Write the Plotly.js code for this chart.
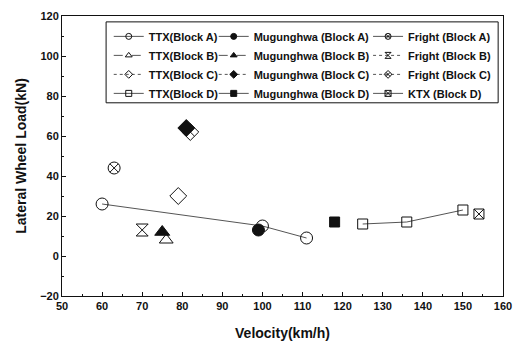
<!DOCTYPE html>
<html>
<head>
<meta charset="utf-8">
<script src="https://cdn.plot.ly/plotly-3.0.1.min.js"></script>
<style>html,body{margin:0;padding:0;background:#fff;}#chart{width:519px;height:345px;}</style>
</head>
<body>
<div id="chart"></div>
<script>
// Data
const ttxA_x = [60, 100, 111];      const ttxA_y = [26, 15, 9];
const mugA_x = [99];                const mugA_y = [13];
const frA_x  = [63];                const frA_y  = [44];
const ttxB_x = [76];                const ttxB_y = [8];
const mugB_x = [75];                const mugB_y = [12];
const frB_x  = [70];                const frB_y  = [13];
const ttxC_x = [79];                const ttxC_y = [30];
const mugC_x = [81];                const mugC_y = [64];
const frC_x  = [82];                const frC_y  = [62];
const ttxD_x = [125, 136, 150];     const ttxD_y = [16, 17, 23];
const mugD_x = [118];               const mugD_y = [17];
const ktxD_x = [154];               const ktxD_y = [21];

const ink = '#111';
const lineC = '#555';
const series = [
  ['TTX(Block A)', ttxA_x, ttxA_y, 'circle-open', 12, 'solid', 'legend'],
  ['TTX(Block B)', ttxB_x, ttxB_y, 'triangle-up-open', 12, 'dash', 'legend'],
  ['TTX(Block C)', ttxC_x, ttxC_y, 'diamond-open', 13, 'dot', 'legend'],
  ['TTX(Block D)', ttxD_x, ttxD_y, 'square-open', 10, 'solid', 'legend'],
  ['Mugunghwa (Block A)', mugA_x, mugA_y, 'circle', 12, 'solid', 'legend2'],
  ['Mugunghwa (Block B)', mugB_x, mugB_y, 'triangle-up', 13, 'dash', 'legend2'],
  ['Mugunghwa (Block C)', mugC_x, mugC_y, 'diamond', 13, 'dot', 'legend2'],
  ['Mugunghwa (Block D)', mugD_x, mugD_y, 'square', 10, 'solid', 'legend2'],
  ['Fright (Block A)', frA_x, frA_y, 'circle-x-open', 12, 'solid', 'legend3'],
  ['Fright (Block B)', frB_x, frB_y, 'hourglass-open', 12, 'dot', 'legend3'],
  ['Fright (Block C)', frC_x, frC_y, 'diamond-x-open', 13, 'dot', 'legend3'],
  ['KTX (Block D)', ktxD_x, ktxD_y, 'square-x-open', 10, 'solid', 'legend3']
];
const data = [];
series.forEach(function (s) {
  // plotted series
  data.push({
    type: 'scatter', mode: 'lines+markers', name: s[0], x: s[1], y: s[2],
    showlegend: false,
    line: {color: lineC, width: 1, dash: 'solid'},
    marker: {symbol: s[3], size: s[4], color: ink, line: {color: ink, width: 1}}
  });
  // legend entry with small key symbol (no points)
  data.push({
    type: 'scatter', mode: 'lines+markers', name: s[0], x: [null], y: [null],
    legend: s[6], showlegend: true, hoverinfo: 'skip',
    line: {color: lineC, width: 1, dash: s[5]},
    marker: {symbol: s[3], size: 6, color: ink, line: {color: ink, width: 1}}
  });
});

const fnt = {family: 'Liberation Sans, Arial, sans-serif', size: 11, color: ink, weight: 'bold'};
function leg(x) {
  return {x: x, xanchor: 'left', y: 0.979, yanchor: 'top', bgcolor: 'rgba(0,0,0,0)',
          borderwidth: 0, font: fnt, tracegroupgap: 0, itemwidth: 30};
}
const titleFont = {family: 'Liberation Sans, Arial, sans-serif', size: 14, color: ink, weight: 'bold'};
const layout = {
  width: 519, height: 345,
  margin: {l: 62, r: 16, t: 16, b: 49},
  paper_bgcolor: '#fff', plot_bgcolor: '#fff',
  showlegend: true,
  legend: leg(0.106),
  legend2: leg(0.344),
  legend3: leg(0.694),
  xaxis: {
    range: [50, 160], dtick: 10, tick0: 50, ticks: 'inside', ticklen: 4, tickwidth: 1,
    tickcolor: ink, showline: true, linecolor: ink, linewidth: 1, mirror: true,
    showgrid: false, zeroline: false, tickfont: fnt,
    minor: {dtick: 5, ticks: 'inside', ticklen: 2, tickcolor: ink},
    title: {text: 'Velocity(km/h)', font: titleFont, standoff: 16}
  },
  yaxis: {
    range: [-20, 120], dtick: 20, tick0: -20, ticks: 'inside', ticklen: 4, tickwidth: 1,
    tickcolor: ink, showline: true, linecolor: ink, linewidth: 1, mirror: true,
    showgrid: false, zeroline: false, tickfont: fnt,
    minor: {dtick: 10, ticks: 'inside', ticklen: 2, tickcolor: ink},
    title: {text: 'Lateral Wheel Load(kN)', font: titleFont, standoff: 10}
  },
  shapes: [{type: 'rect', xref: 'paper', yref: 'paper', x0: 0.1, x1: 0.989, y0: 0.69, y1: 0.979,
            line: {color: ink, width: 1}, fillcolor: 'rgba(0,0,0,0)', layer: 'below'}]
};
Plotly.newPlot('chart', data, layout, {displayModeBar: false, staticPlot: true});
</script>
</body>
</html>
